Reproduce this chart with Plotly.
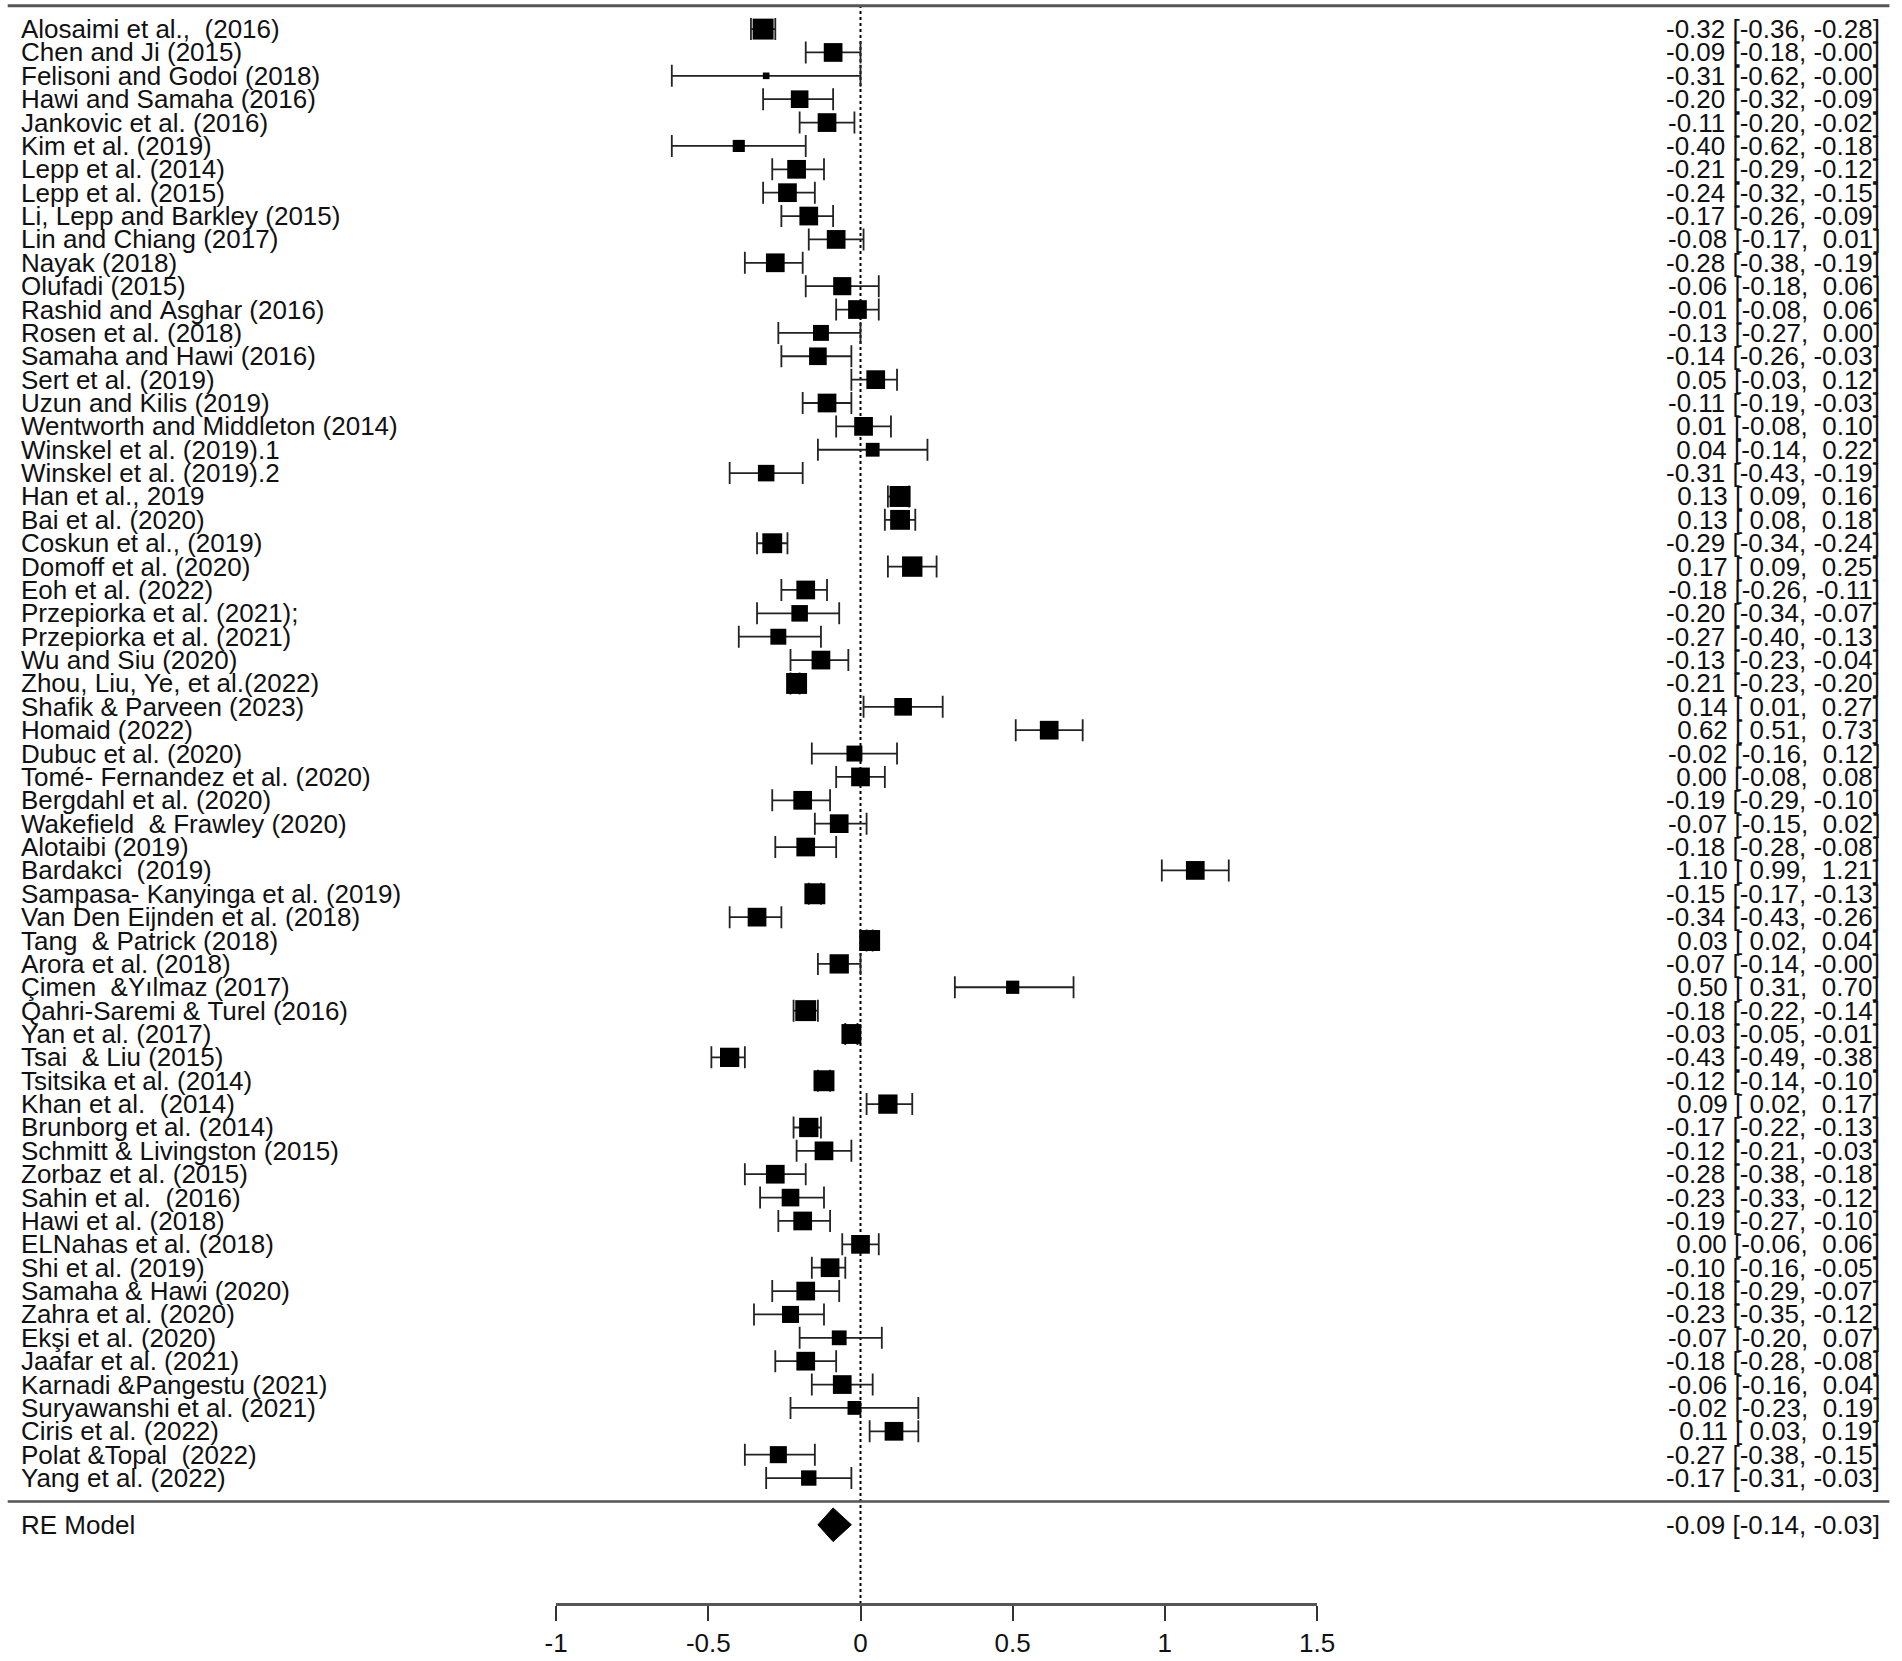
import plotly.graph_objects as go

studies = [
    "Alosaimi et al.,  (2016)", "Chen and Ji (2015)", "Felisoni and Godoi (2018)",
    "Hawi and Samaha (2016)", "Jankovic et al. (2016)", "Kim et al. (2019)",
    "Lepp et al. (2014)", "Lepp et al. (2015)", "Li, Lepp and Barkley (2015)",
    "Lin and Chiang (2017)", "Nayak (2018)", "Olufadi (2015)",
    "Rashid and Asghar (2016)", "Rosen et al. (2018)", "Samaha and Hawi (2016)",
    "Sert et al. (2019)", "Uzun and Kilis (2019)", "Wentworth and Middleton (2014)",
    "Winskel et al. (2019).1", "Winskel et al. (2019).2", "Han et al., 2019",
    "Bai et al. (2020)", "Coskun et al., (2019)", "Domoff et al. (2020)",
    "Eoh et al. (2022)", "Przepiorka et al. (2021);", "Przepiorka et al. (2021)",
    "Wu and Siu (2020)", "Zhou, Liu, Ye, et al.(2022)", "Shafik & Parveen (2023)",
    "Homaid (2022)", "Dubuc et al. (2020)", "Tomé- Fernandez et al. (2020)",
    "Bergdahl et al. (2020)", "Wakefield  & Frawley (2020)", "Alotaibi (2019)",
    "Bardakci  (2019)", "Sampasa- Kanyinga et al. (2019)", "Van Den Eijnden et al. (2018)",
    "Tang  & Patrick (2018)", "Arora et al. (2018)", "Çimen  &Yılmaz (2017)",
    "Qahri-Saremi & Turel (2016)", "Yan et al. (2017)", "Tsai  & Liu (2015)",
    "Tsitsika et al. (2014)", "Khan et al.  (2014)", "Brunborg et al. (2014)",
    "Schmitt & Livingston (2015)", "Zorbaz et al. (2015)", "Sahin et al.  (2016)",
    "Hawi et al. (2018)", "ELNahas et al. (2018)", "Shi et al. (2019)",
    "Samaha & Hawi (2020)", "Zahra et al. (2020)", "Ekşi et al. (2020)",
    "Jaafar et al. (2021)", "Karnadi &Pangestu (2021)", "Suryawanshi et al. (2021)",
    "Ciris et al. (2022)", "Polat &Topal  (2022)", "Yang et al. (2022)",
]

estimate = [
    -0.32, -0.09, -0.31, -0.20, -0.11, -0.40, -0.21, -0.24, -0.17, -0.08,
    -0.28, -0.06, -0.01, -0.13, -0.14, 0.05, -0.11, 0.01, 0.04, -0.31,
    0.13, 0.13, -0.29, 0.17, -0.18, -0.20, -0.27, -0.13, -0.21, 0.14,
    0.62, -0.02, 0.00, -0.19, -0.07, -0.18, 1.10, -0.15, -0.34, 0.03,
    -0.07, 0.50, -0.18, -0.03, -0.43, -0.12, 0.09, -0.17, -0.12, -0.28,
    -0.23, -0.19, 0.00, -0.10, -0.18, -0.23, -0.07, -0.18, -0.06, -0.02,
    0.11, -0.27, -0.17,
]

ci_lower = [
    -0.36, -0.18, -0.62, -0.32, -0.20, -0.62, -0.29, -0.32, -0.26, -0.17,
    -0.38, -0.18, -0.08, -0.27, -0.26, -0.03, -0.19, -0.08, -0.14, -0.43,
    0.09, 0.08, -0.34, 0.09, -0.26, -0.34, -0.40, -0.23, -0.23, 0.01,
    0.51, -0.16, -0.08, -0.29, -0.15, -0.28, 0.99, -0.17, -0.43, 0.02,
    -0.14, 0.31, -0.22, -0.05, -0.49, -0.14, 0.02, -0.22, -0.21, -0.38,
    -0.33, -0.27, -0.06, -0.16, -0.29, -0.35, -0.20, -0.28, -0.16, -0.23,
    0.03, -0.38, -0.31,
]

ci_upper = [
    -0.28, -0.0, -0.0, -0.09, -0.02, -0.18, -0.12, -0.15, -0.09, 0.01,
    -0.19, 0.06, 0.06, 0.00, -0.03, 0.12, -0.03, 0.10, 0.22, -0.19,
    0.16, 0.18, -0.24, 0.25, -0.11, -0.07, -0.13, -0.04, -0.20, 0.27,
    0.73, 0.12, 0.08, -0.10, 0.02, -0.08, 1.21, -0.13, -0.26, 0.04,
    -0.0, 0.70, -0.14, -0.01, -0.38, -0.10, 0.17, -0.13, -0.03, -0.18,
    -0.12, -0.10, 0.06, -0.05, -0.07, -0.12, 0.07, -0.08, 0.04, 0.19,
    0.19, -0.15, -0.03,
]

# relative study weights (%)
weights = [
    2.0, 1.6, 0.2, 1.42, 1.6, 0.67, 1.6, 1.6, 1.6, 1.6,
    1.6, 1.5, 1.6, 1.16, 1.42, 1.6, 1.6, 1.6, 0.87, 1.25,
    2.0, 1.8, 1.8, 1.9, 1.6, 1.25, 1.16, 1.6, 2.0, 1.42,
    1.6, 1.16, 1.6, 1.6, 1.6, 1.6, 1.6, 2.0, 1.6, 2.0,
    1.7, 0.8, 2.0, 1.8, 1.7, 2.0, 1.7, 1.7, 1.6, 1.6,
    1.42, 1.6, 1.6, 1.6, 1.6, 1.33, 1.0, 1.6, 1.6, 0.87,
    1.6, 1.33, 1.08,
]

re_label = "RE Model"
re_estimate = -0.09
re_lower = -0.14
re_upper = -0.03

tick_values = [-1, -0.5, 0, 0.5, 1, 1.5]
tick_labels = ["-1", "-0.5", "0", "0.5", "1", "1.5"]

# ---------------------------------------------------------------
W, H = 1902, 1661
k = len(studies)
rows = [k - i for i in range(k)]          # top study at row k, bottom at 1
row_pitch = 23.37
y_at_zero_px = 1501.4
y_bottom = -(H - y_at_zero_px) / row_pitch
y_top = y_at_zero_px / row_pitch
axis_px = 1604
axis_pos = (H - axis_px) / H

# horizontal calibration of the renderer (observed: shown = 11.3 + 0.987 * set)
CAL_A, CAL_B = 11.3, 0.987

def fx(p):
    """target horizontal pixel -> paper fraction"""
    return (p - CAL_A) / CAL_B / W

FONT = "Liberation Sans, Arial, Helvetica, sans-serif"
FS = 26
LABEL_X = fx(21.9 - 3.5)
VALUE_X = fx(1878 + 8.4)
LINE_X0, LINE_X1 = fx(7), fx(1894)

def nb(s):
    return s.replace(" ", "\u00a0")

sizes = [14.8 * (w ** 0.5) for w in weights]
err_plus = [round(u - e, 4) for u, e in zip(ci_upper, estimate)]
err_minus = [round(e - l, 4) for e, l in zip(estimate, ci_lower)]

fig = go.Figure()

fig.add_trace(go.Scatter(
    x=estimate, y=rows, mode="markers",
    marker=dict(symbol="square", size=sizes, color="black", opacity=1,
                line=dict(width=0)),
    error_x=dict(type="data", symmetric=False, array=err_plus, arrayminus=err_minus,
                 width=11, thickness=1.8, color="#222222"),
    hoverinfo="skip", showlegend=False, cliponaxis=False,
))

dh = 0.72
fig.add_trace(go.Scatter(
    x=[re_lower, re_estimate, re_upper, re_estimate, re_lower],
    y=[-1, -1 + dh, -1, -1 - dh, -1],
    mode="lines", fill="toself", fillcolor="black",
    line=dict(color="black", width=1), hoverinfo="skip", showlegend=False,
))

annotations = []
for r, s, e, l, u in zip(rows, studies, estimate, ci_lower, ci_upper):
    annotations.append(dict(x=LABEL_X, xref="paper", y=r, yref="y", text=nb(s),
                            showarrow=False, xanchor="left", yanchor="middle",
                            font=dict(family=FONT, size=FS, color="#111")))
    annotations.append(dict(x=VALUE_X, xref="paper", y=r, yref="y",
                            text=nb(f"{e:5.2f} [{l:5.2f}, {u:5.2f}]"),
                            showarrow=False, xanchor="right", yanchor="middle",
                            font=dict(family=FONT, size=FS, color="#111")))
annotations.append(dict(x=LABEL_X, xref="paper", y=-1, yref="y", text=nb(re_label),
                        showarrow=False, xanchor="left", yanchor="middle",
                        font=dict(family=FONT, size=FS, color="#111")))
annotations.append(dict(x=VALUE_X, xref="paper", y=-1, yref="y",
                        text=nb(f"{re_estimate:5.2f} [{re_lower:5.2f}, {re_upper:5.2f}]"),
                        showarrow=False, xanchor="right", yanchor="middle",
                        font=dict(family=FONT, size=FS, color="#111")))

shapes = [
    dict(type="line", xref="paper", yref="y", x0=LINE_X0, x1=LINE_X1, y0=k + 1, y1=k + 1,
         line=dict(color="#555555", width=3)),
    dict(type="line", xref="paper", yref="y", x0=LINE_X0, x1=LINE_X1, y0=0, y1=0,
         line=dict(color="#555555", width=2.5)),
    dict(type="line", xref="x", yref="paper", x0=0, x1=0, y0=axis_pos,
         y1=(H - 6) / H, line=dict(color="black", width=2, dash="dot"), layer="below"),
]

fig.update_layout(
    width=W, height=H, margin=dict(l=0, r=0, t=0, b=0, pad=0),
    autosize=False,
    paper_bgcolor="white", plot_bgcolor="white",
    showlegend=False,
    xaxis=dict(domain=[fx(557), fx(1320)], range=[-1, 1.5], anchor="free",
               position=axis_pos, showgrid=False, zeroline=False,
               showline=True, linecolor="#555555", linewidth=3,
               ticks="outside", ticklen=15, tickwidth=1.5, tickcolor="#333333",
               tickvals=tick_values, ticktext=tick_labels,
               tickfont=dict(family=FONT, size=FS, color="#111")),
    yaxis=dict(domain=[0, 1], range=[y_bottom, y_top], visible=False,
               showgrid=False, zeroline=False),
    annotations=annotations, shapes=shapes,
)

fig.write_html(
    "out.html",
    config={"displayModeBar": False, "responsive": False},
    post_script="document.documentElement.style.overflow='hidden';"
                "document.body.style.margin='0';document.body.style.overflow='hidden';",
)
